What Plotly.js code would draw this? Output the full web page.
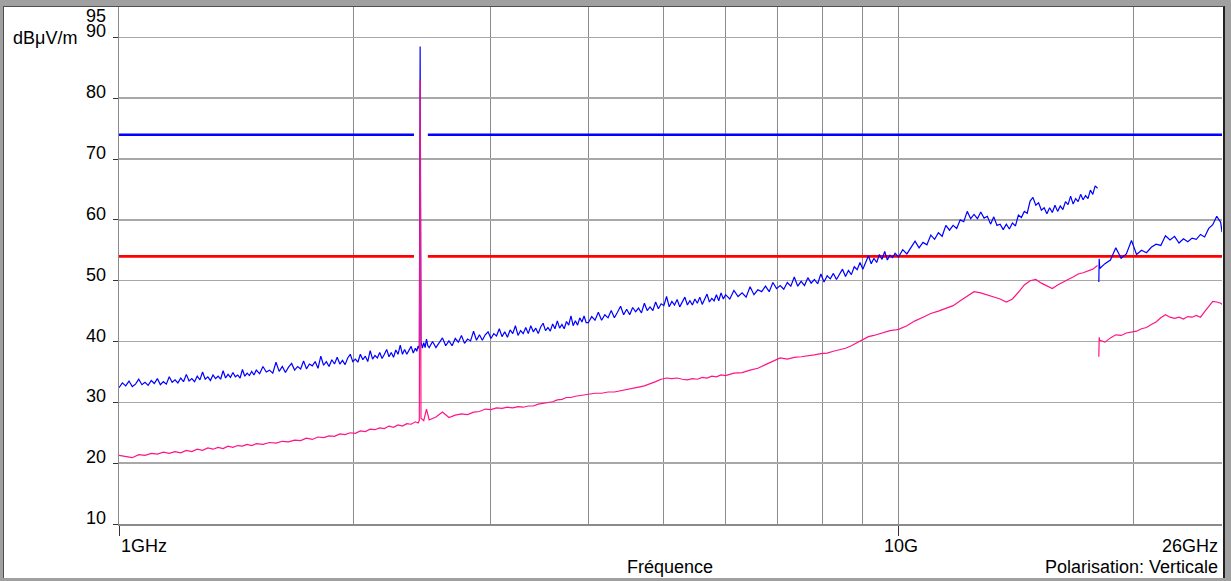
<!DOCTYPE html>
<html><head><meta charset="utf-8">
<script src="https://cdn.plot.ly/plotly-3.0.1.min.js"></script>
<style>
html,body{margin:0;padding:0;background:#a0a0a0;width:1231px;height:581px;overflow:hidden;}
#frame{position:absolute;left:3px;top:6px;width:1219px;height:571px;background:#fff;border-left:1px solid #505050;border-top:1px solid #505050;border-right:2px solid #202020;}
#chart{width:1219px;height:571px;}
</style></head><body><div id="frame"><div id="chart"></div></div>
<script>
// Peak sweep (blue): frequencies (GHz) and levels (dBµV/m)
const peakFreqGHz = [
 1.00,1.01,1.02,1.03,1.04,1.05,1.06,1.07,1.08,1.09,1.10,1.11,1.12,1.13,1.14,1.15,1.16,1.17,1.18,1.19,1.20,1.21,1.22,1.23,1.24,1.25,1.26,1.27,1.28,1.29,1.30,1.31,1.32,1.33,1.34,1.35,1.36,1.37,1.38,1.39,1.40,1.41,1.42,1.43,1.44,1.45,1.46,1.47,1.48,1.49,
 1.5,1.515,1.53,1.545,1.56,1.575,1.59,1.605,1.62,1.635,1.65,1.665,1.68,1.695,1.71,1.725,1.74,1.755,1.77,1.785,1.8,1.815,1.83,1.845,1.86,1.875,1.89,1.905,1.92,1.935,1.95,1.965,1.98,1.995,2.01,2.025,2.04,2.055,2.07,2.085,2.1,2.115,2.13,2.145,2.16,2.175,2.19,2.205,2.22,2.235,2.25,2.265,2.28,2.295,2.31,2.325,2.34,2.355,2.37,2.385,2.4,
 2.41,2.42,2.428,2.434,2.44,2.45,2.46,2.47,2.48,2.49,
 2.500,2.525,2.550,2.575,2.600,2.625,2.650,2.675,2.700,2.725,2.750,2.775,2.800,2.825,2.850,2.875,2.900,2.925,2.950,2.975,3.000,3.025,3.050,3.075,3.100,3.125,3.150,3.175,3.200,3.225,3.250,3.275,3.300,3.325,3.350,3.375,3.400,3.425,3.450,3.475,3.500,3.525,3.550,3.575,3.600,3.625,3.650,3.675,3.700,3.725,3.750,3.775,3.800,3.825,3.850,3.875,3.900,3.925,3.950,3.975,
 4.00,4.04,4.08,4.12,4.16,4.20,4.24,4.28,4.32,4.36,4.40,4.44,4.48,4.52,4.56,4.60,4.64,4.68,4.72,4.76,4.80,4.84,4.88,4.92,4.96,5.00,5.04,5.08,5.12,5.16,5.20,5.24,5.28,5.32,5.36,5.40,5.44,5.48,5.52,5.56,5.60,5.64,5.68,5.72,5.76,5.80,5.84,5.88,5.92,5.96,
 6.000,6.075,6.150,6.225,6.300,6.375,6.450,6.525,6.600,6.675,6.750,6.825,6.900,6.975,7.050,7.125,7.200,7.275,7.350,7.425,7.500,7.575,7.650,7.725,7.800,7.875,7.950,8.025,8.100,8.175,8.250,8.325,8.400,8.475,8.550,8.625,8.700,8.775,8.850,8.925,9.000,9.075,9.150,9.225,9.300,9.375,9.450,9.525,9.600,9.675,9.750,9.825,9.900,
 10.000,10.125,10.250,10.375,10.500,10.625,10.750,10.875,11.000,11.125,11.250,11.375,11.500,11.625,11.750,11.875,12.000,12.125,12.250,12.375,12.500,12.625,12.750,12.875,13.000,13.125,13.250,13.375,13.500,13.625,13.750,13.875,14.000,14.125,14.250,14.375,14.500,14.625,14.750,14.875,15.000,15.125,15.250,15.375,15.500,15.625,15.750,15.875,16.000,16.125,16.250,16.375,16.500,16.625,16.750,16.875,17.000,17.125,17.250,17.375,17.500,17.625,17.750,17.875,18.000,
 18.05,
 18.07,18.09,18.12,18.40,18.70,19.00,19.30,19.60,19.90,20.20,20.50,20.80,21.10,21.40,21.70,22.00,22.30,22.60,22.90,23.20,23.50,23.80,24.10,24.40,24.70,25.00,25.30,25.60,25.90,26.00
];
const peakDBuV = [
 32.4,33.2,32.7,33.5,32.6,33.0,33.8,32.9,33.3,32.8,33.6,33.1,33.9,32.9,33.4,33.0,34.2,33.3,33.7,33.2,34.0,33.4,34.6,33.5,33.9,33.4,34.3,33.7,35.0,33.8,34.2,33.6,34.5,33.9,34.3,33.8,35.2,34.0,34.6,34.1,34.9,34.2,34.5,34.0,35.4,34.3,34.8,34.4,35.1,34.5,
 35.3,34.7,35.9,35.0,35.3,34.8,36.6,35.1,35.9,34.9,35.8,36.4,35.3,35.9,35.5,36.8,35.5,36.3,36.0,36.7,35.6,37.6,36.1,36.7,35.9,37.0,36.3,37.4,36.3,36.9,36.2,37.3,37.9,36.7,37.1,36.6,37.9,37.0,37.6,36.7,38.5,37.1,37.7,37.3,38.2,37.2,37.9,38.7,37.5,38.2,37.4,38.6,37.9,39.4,37.9,38.7,37.9,38.6,39.2,38.1,38.9,
 38.4,39.3,38.8,88.5,40.0,38.9,39.8,39.0,40.4,39.3,
 39.0,40.0,39.0,39.8,40.6,39.3,40.1,39.3,40.5,39.9,41.0,39.7,40.4,40.1,41.7,40.2,41.1,40.2,41.1,41.6,40.5,41.3,40.9,42.1,40.8,41.6,40.7,41.9,41.3,42.6,41.0,41.8,41.3,42.3,41.3,42.6,41.6,42.2,41.3,42.4,43.0,41.8,42.3,41.7,42.9,42.1,43.4,42.2,42.8,42.1,43.3,42.7,44.2,42.6,43.4,42.7,43.9,43.2,44.2,43.1,
 43.1,44.1,43.5,44.8,43.5,44.4,43.9,45.1,43.9,44.8,45.8,44.4,45.3,44.4,45.6,44.9,45.5,44.7,46.3,45.1,45.7,45.1,46.5,45.4,46.2,45.9,47.4,45.7,46.6,46.0,46.9,45.7,46.5,47.3,46.0,46.7,46.0,47.0,46.3,47.3,46.1,47.0,47.8,46.5,47.1,46.7,47.7,46.7,48.0,47.0,
 47.7,47.0,48.4,47.4,48.0,47.3,49.0,47.7,48.5,48.2,49.1,48.2,49.7,48.7,49.2,48.6,49.7,49.1,50.6,49.1,49.9,49.2,50.5,49.6,50.2,49.5,51.1,49.8,50.8,50.3,51.2,50.2,51.0,51.9,50.7,51.7,51.0,52.3,51.8,53.0,51.9,53.0,54.1,52.8,53.7,53.0,54.3,53.5,54.8,53.4,54.2,53.8,54.5,
 53.9,55.1,54.4,55.5,56.5,55.4,56.3,55.9,57.5,56.8,57.9,57.3,59.1,58.3,59.1,58.6,60.0,59.7,61.4,60.2,60.9,60.2,61.3,60.3,60.6,59.3,60.5,59.1,59.3,58.4,59.3,58.5,59.5,59.0,60.8,60.4,61.4,61.1,63.1,63.7,62.4,62.8,61.6,62.0,61.0,62.0,61.2,62.4,61.4,62.3,61.7,63.0,62.5,63.9,62.6,63.5,63.0,64.2,63.3,64.0,63.5,64.9,64.2,65.6,65.2,
 null,
 49.8,53.6,52.0,52.8,53.4,55.4,53.7,54.4,56.6,54.3,55.0,54.6,55.5,56.0,55.8,57.4,56.7,57.3,56.2,56.9,56.4,57.0,56.8,57.6,57.2,58.6,59.2,60.6,59.6,58.0
];
// Average sweep (magenta): frequencies (GHz) and levels (dBµV/m)
const avgFreqGHz = [
 1.00,1.02,1.04,1.06,1.08,1.10,1.12,1.14,1.16,1.18,1.20,1.22,1.24,1.26,1.28,1.30,1.32,1.34,1.36,1.38,1.40,1.42,1.44,1.46,1.48,
 1.50,1.53,1.56,1.59,1.62,1.65,1.68,1.71,1.74,1.77,1.80,1.83,1.86,1.89,1.92,1.95,1.98,2.01,2.04,2.07,2.10,2.13,2.16,2.19,2.22,2.25,2.28,2.31,2.34,2.37,2.40,
 2.42,2.428,2.434,2.44,2.46,2.48,
 2.50,2.55,2.60,2.65,2.70,2.75,2.80,2.85,2.90,2.95,3.00,3.05,3.10,3.15,3.20,3.25,3.30,3.35,3.40,3.45,3.50,3.55,3.60,3.65,3.70,3.75,3.80,3.85,3.90,3.95,
 4.00,4.08,4.16,4.24,4.32,4.40,4.48,4.56,4.64,4.72,4.80,4.88,4.96,5.04,5.12,5.20,5.28,5.36,5.44,5.52,5.60,5.68,5.76,5.84,5.92,
 6.00,6.15,6.30,6.45,6.60,6.75,6.90,7.05,7.20,7.35,7.50,7.65,7.80,7.95,8.10,8.25,8.40,8.55,8.70,8.85,9.00,9.15,9.30,9.45,9.60,9.75,9.90,
 10.00,10.25,10.50,10.75,11.00,11.25,11.50,11.75,12.00,12.25,12.50,12.75,13.00,13.25,13.50,13.75,14.00,14.25,14.50,14.75,15.00,15.25,15.50,15.75,16.00,16.25,16.50,16.75,17.00,17.25,17.50,17.75,18.00,
 18.05,
 18.07,18.09,18.12,18.40,18.70,19.00,19.30,19.60,19.90,20.20,20.50,20.80,21.10,21.40,21.70,22.00,22.30,22.60,22.90,23.20,23.50,23.80,24.10,24.40,24.70,25.00,25.30,25.60,25.90,26.00
];
const avgDBuV = [
 21.3,21.1,20.9,21.4,21.3,21.6,21.5,21.8,21.6,21.9,21.7,22.1,21.9,22.3,22.1,22.5,22.3,22.6,22.4,22.8,22.6,22.9,22.8,23.1,22.9,
 23.2,23.1,23.4,23.3,23.6,23.5,23.8,23.7,24.1,23.9,24.3,24.2,24.5,24.4,24.8,24.7,25.0,24.9,25.3,25.2,25.6,25.5,25.8,25.7,26.1,25.9,26.3,26.1,26.5,26.4,26.8,
 26.6,27.0,83.0,27.4,27.0,28.9,
 27.1,27.6,28.4,27.5,27.9,28.1,28.0,28.4,28.5,28.9,28.8,29.1,29.0,29.2,29.1,29.3,29.2,29.4,29.4,29.7,29.8,30.0,30.1,30.4,30.5,30.8,30.8,31.0,31.1,31.3,
 31.3,31.5,31.5,31.7,31.7,31.9,32.0,32.2,32.5,32.7,33.0,33.4,33.8,34.0,33.9,34.0,33.8,33.7,33.9,33.8,34.1,34.0,34.3,34.2,34.5,
 34.4,34.8,34.9,35.3,35.6,36.2,36.8,37.3,37.1,37.4,37.5,37.6,37.8,38.0,38.1,38.4,38.6,38.9,39.3,39.8,40.4,40.8,41.0,41.3,41.5,41.8,41.9,
 42.0,42.6,43.4,44.0,44.6,45.0,45.4,45.9,46.7,47.5,48.2,48.0,47.7,47.4,47.0,46.5,47.0,48.1,49.3,50.0,50.2,49.6,49.1,48.7,49.3,49.8,50.2,50.6,51.1,51.3,51.6,51.9,52.5,
 null,
 37.5,40.7,40.2,39.9,40.6,41.1,41.0,41.4,41.5,41.7,42.1,42.3,42.8,43.2,43.9,44.4,44.0,43.8,44.0,43.7,44.1,44.0,44.3,44.0,44.9,45.7,46.6,46.5,46.3,46.1
];
// Limit lines (with exclusion gap around the 2.4 GHz band)
const limitEdgesGHz = [1, 2.39, 2.49, 26];
const peakLimitDB = 74;
const avgLimitDB = 54;
// Axis labels
const yTickVals = [10,20,30,40,50,60,70,80,90];
const yTopVal = 95;
const xTickVals = [1,10];
const xGridMinor = [2,3,4,5,6,7,8,9,20];
const xLabelVals = [1,10,26];
const xLabelText = ['1GHz','10G','26GHz'];
const yUnit = 'dBμV/m';
const xTitle = 'Fréquence';
const polarNote = 'Polarisation: Verticale';

const FONT = {family:'"Liberation Sans", Arial, sans-serif', size:18, color:'#000'};
const limX = [limitEdgesGHz[0], limitEdgesGHz[1], null, limitEdgesGHz[2], limitEdgesGHz[3]];
const limY = v => limX.map(x => x === null ? null : v);

const traces = [
 {x: limX, y: limY(peakLimitDB), mode:'lines', line:{color:'#0000ff', width:2.6}, connectgaps:false},
 {x: limX, y: limY(avgLimitDB), mode:'lines', line:{color:'#ff0000', width:2.6}, connectgaps:false},
 {x: peakFreqGHz, y: peakDBuV, mode:'lines', line:{color:'#0000ff', width:1.2}, connectgaps:false},
 {x: avgFreqGHz, y: avgDBuV, mode:'lines', line:{color:'#ff1485', width:1.2}, connectgaps:false}
];

const ann = [];
yTickVals.forEach(v => ann.push({xref:'paper', yref:'y', x:0, y:v, xshift:-11.5, yshift:6, xanchor:'right', yanchor:'middle', text:String(v), showarrow:false, font:FONT}));
ann.push({xref:'paper', yref:'y', x:0, y:yTopVal, xshift:-11.5, yshift:-8.5, xanchor:'right', yanchor:'middle', text:String(yTopVal), showarrow:false, font:FONT});
ann.push({xref:'paper', yref:'y', x:0, y:yTopVal, xshift:-108.5, yshift:-31, xanchor:'left', yanchor:'middle', text:yUnit, showarrow:false, font:FONT});
const xAnch = ['left','center','right'];
const xSh = [0, 2, -2];
xLabelVals.forEach((v,i) => ann.push({xref:'x', yref:'paper', x:Math.log10(v), y:0, xshift:xSh[i], yshift:-22, xanchor:xAnch[i], yanchor:'middle', text:xLabelText[i], showarrow:false, font:FONT}));
ann.push({xref:'paper', yref:'paper', x:0.5, y:0, xshift:-1, yshift:-43, xanchor:'center', yanchor:'middle', text:xTitle, showarrow:false, font:FONT});
ann.push({xref:'paper', yref:'paper', x:1, y:0, xshift:-2, yshift:-43, xanchor:'right', yanchor:'middle', text:polarNote, showarrow:false, font:FONT});

const layout = {
 width:1219, height:571,
 margin:{l:115, r:1, t:0, b:54, pad:0},
 paper_bgcolor:'#ffffff', plot_bgcolor:'#ffffff',
 showlegend:false,
 font:FONT,
 xaxis:{type:'log', range:[0, Math.log10(26)], tickvals:xTickVals, showticklabels:false,
   ticks:'outside', ticklen:10, tickcolor:'#333', tickwidth:1,
   showgrid:true, gridcolor:'#8c8c8c', gridwidth:1,
   minor:{tickvals:xGridMinor, showgrid:true, gridcolor:'#8c8c8c', gridwidth:1, ticks:''},
   showline:true, linecolor:'#8a8a8a', linewidth:1.5, zeroline:false, fixedrange:true},
 yaxis:{range:[10,95], tickvals:yTickVals, showticklabels:false,
   ticks:'outside', ticklen:5, tickcolor:'#333', tickwidth:1,
   showgrid:true, gridcolor:'#a8a8a8', gridwidth:1.5,
   showline:true, linecolor:'#8a8a8a', linewidth:1, zeroline:false, fixedrange:true},
 annotations: ann
};
Plotly.newPlot('chart', traces, layout, {displayModeBar:false, staticPlot:true});
</script></body></html>
